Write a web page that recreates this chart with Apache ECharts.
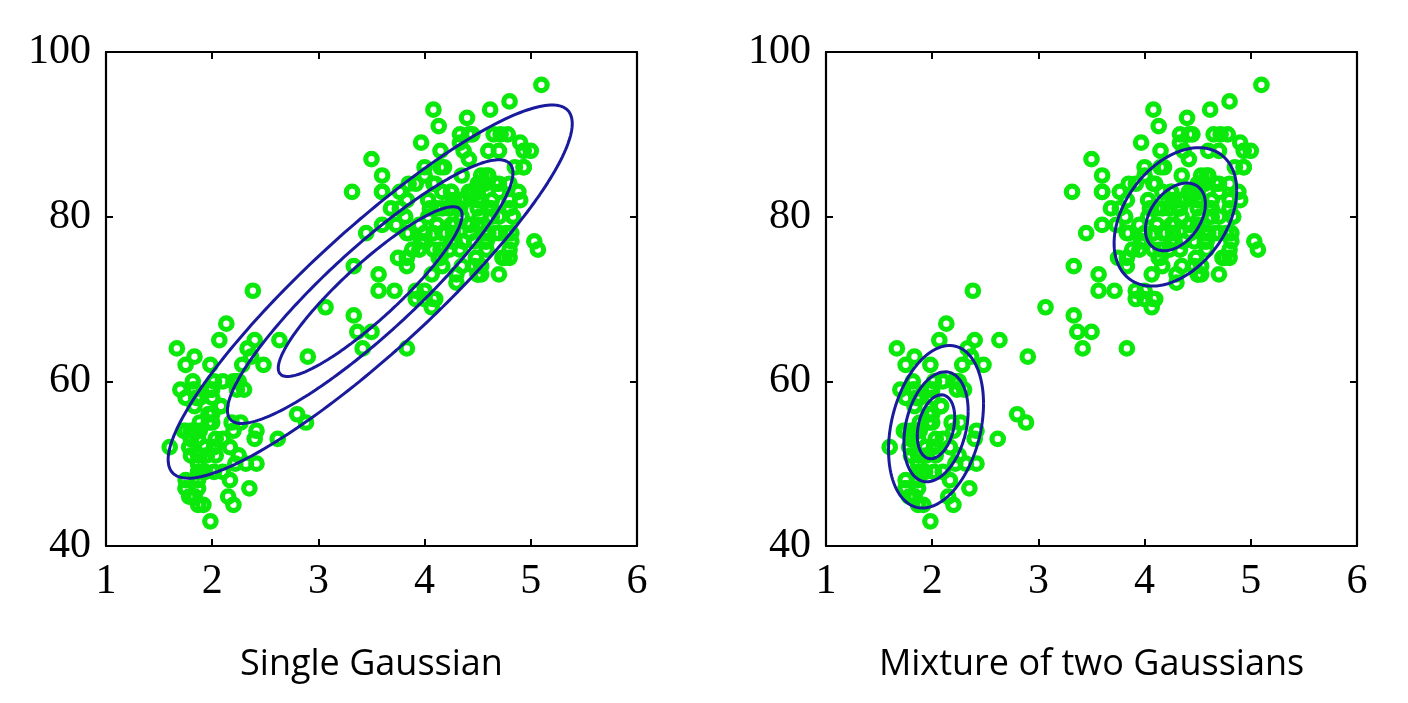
<!DOCTYPE html>
<html>
<head>
<meta charset="utf-8">
<script src="https://cdn.jsdelivr.net/npm/echarts@6/dist/echarts.min.js"></script>
<style>
html,body{margin:0;padding:0;background:#fff;}
#chart{width:1408px;height:703px;}
</style>
</head>
<body>
<div id="chart"></div>
<script>
// Old Faithful data: eruption duration (min) and waiting time (min)
const eruptions = [3.600,1.800,3.333,2.283,4.533,2.883,4.700,3.600,1.950,4.350,1.833,3.917,4.200,1.750,4.700,2.167,1.750,4.800,1.600,4.250,1.800,1.750,3.450,3.067,4.533,3.600,1.967,4.083,3.850,4.433,4.300,4.467,3.367,4.033,3.833,2.017,1.867,4.833,1.833,4.783,4.350,1.883,4.567,1.750,4.533,3.317,3.833,2.100,4.633,2.000,4.800,4.716,1.833,4.833,1.733,4.883,3.717,1.667,4.567,4.317,2.233,4.500,1.750,4.800,1.817,4.400,4.167,4.700,2.067,4.700,4.033,1.967,4.500,4.000,1.983,5.067,2.017,4.567,3.883,3.600,4.133,4.333,4.100,2.633,4.067,4.933,3.950,4.517,2.167,4.000,2.200,4.333,1.867,4.817,1.833,4.300,4.667,3.750,1.867,4.900,2.483,4.367,2.100,4.500,4.050,1.867,4.700,1.783,4.850,3.683,4.733,2.300,4.900,4.417,1.700,4.633,2.317,4.600,1.817,4.417,2.617,4.067,4.250,1.967,4.600,3.767,1.917,4.500,2.267,4.650,1.867,4.167,2.800,4.333,1.833,4.383,1.883,4.933,2.033,3.733,4.233,2.233,4.533,4.817,4.333,1.983,4.633,2.017,5.100,1.800,5.033,4.000,2.400,4.600,3.567,4.000,4.500,4.083,1.800,3.967,2.200,4.150,2.000,3.833,3.500,4.583,2.367,5.000,1.933,4.617,1.917,2.083,4.583,3.333,4.167,4.333,4.500,2.417,4.000,4.167,1.883,4.583,4.250,3.767,2.033,4.433,4.083,1.833,4.417,2.183,4.800,1.833,4.800,4.100,3.966,4.233,3.500,4.366,2.250,4.667,2.100,4.350,4.133,1.867,4.600,1.783,4.367,3.850,1.933,4.500,2.383,4.700,1.867,3.833,3.417,4.233,2.400,4.800,2.000,4.150,1.867,4.267,1.750,4.483,4.000,4.117,4.083,4.267,3.917,4.550,4.083,2.417,4.183,2.217,4.450,1.883,1.850,4.283,3.950,2.333,4.150,2.350,4.933,2.900,4.583,3.833,2.083,4.367,2.133,4.350,2.200,4.450,3.567,4.500,4.150,3.817,3.917,4.450,2.000,4.283,4.767,4.533,1.850,4.250,1.983,2.250,4.750,4.117,2.150,4.417,1.817,4.467];
const waiting = [79,54,74,62,85,55,88,85,51,85,54,84,78,47,83,52,62,84,52,79,51,47,78,69,74,83,55,76,78,79,73,77,66,80,74,52,48,80,59,90,80,58,84,58,73,83,64,53,82,59,75,90,54,80,54,83,71,64,77,81,59,84,48,82,60,92,78,78,65,73,82,56,79,71,62,76,60,78,76,83,75,82,70,65,73,88,76,80,48,86,60,90,50,78,63,72,84,75,51,82,62,88,49,83,81,47,84,52,86,81,75,59,89,79,59,81,50,85,59,87,53,69,77,56,88,81,45,82,55,90,45,83,56,89,46,82,51,86,53,79,81,60,82,77,76,59,80,49,96,53,77,77,65,81,71,70,81,93,53,89,45,86,58,78,66,76,63,88,52,93,49,57,77,68,81,81,73,50,85,74,55,77,83,83,51,78,84,46,83,55,81,57,76,84,77,81,87,77,51,78,60,82,91,53,78,46,77,84,49,83,71,80,49,75,64,76,53,94,55,76,50,82,54,75,78,79,78,78,70,79,70,54,86,50,90,54,54,77,79,64,75,47,86,63,85,82,57,82,67,74,54,83,73,73,88,80,71,83,56,79,78,84,58,83,43,60,75,81,46,90,46,74];

// Axis ticks
const xTicks = [1, 2, 3, 4, 5, 6];
const yTicks = [40, 60, 80, 100];

// Panel captions
const captions = ['Single Gaussian', 'Mixture of two Gaussians'];

// Contour levels (Mahalanobis radius) for the single Gaussian fit
const singleLevels = [0.76, 1.18, 1.67];

// Mixture components: means, covariances [sxx, sxy, syy], contour radii
const mixMeans = [[2.036, 54.48], [4.290, 79.97]];
const mixCovs = [[0.0692, 0.4352, 33.70], [0.1700, 0.9406, 36.05]];
const mixLevels = [[0.67, 1.15, 1.70], [0.685, 1.40]];

// ---- build ----
const n = Math.min(eruptions.length, waiting.length);
const points = [];
for (let i = 0; i < n; i++) points.push([eruptions[i], waiting[i]]);

// ML fit of single Gaussian from the data
let mx = 0, my = 0;
for (const p of points) { mx += p[0]; my += p[1]; }
mx /= n; my /= n;
let sxx = 0, sxy = 0, syy = 0;
for (const p of points) {
  const dx = p[0] - mx, dy = p[1] - my;
  sxx += dx * dx; sxy += dx * dy; syy += dy * dy;
}
sxx /= n; sxy /= n; syy /= n;

function ellipse(mu, cov, k) {
  const a = Math.sqrt(cov[0]);
  const b = cov[1] / a;
  const c = Math.sqrt(cov[2] - b * b);
  const pts = [];
  const N = 240;
  for (let i = 0; i <= N; i++) {
    const t = 2 * Math.PI * i / N;
    pts.push([mu[0] + k * a * Math.cos(t), mu[1] + k * (b * Math.cos(t) + c * Math.sin(t))]);
  }
  return pts;
}

const GREEN = '#0be80b';
const BLUE = '#1a1a9c';
const serif = "'Liberation Serif','DejaVu Serif',serif";

const gridTop = 52, gridH = 494, gridW = 531;
const gridLefts = [106, 826];

const grids = [], xAxes = [], yAxes = [], series = [];
gridLefts.forEach((L, gi) => {
  grids.push({left: L, top: gridTop, width: gridW, height: gridH, show: false});
  const baseX = {
    gridIndex: gi, type: 'value', min: xTicks[0], max: xTicks[xTicks.length - 1], interval: 1,
    splitLine: {show: false},
    axisLine: {show: true, onZero: false, lineStyle: {color: '#000', width: 2.2}},
    axisTick: {show: true, inside: true, length: 7, lineStyle: {color: '#000', width: 2}}
  };
  const baseY = {
    gridIndex: gi, type: 'value', min: yTicks[0], max: yTicks[yTicks.length - 1], interval: 20,
    splitLine: {show: false},
    axisLine: {show: true, onZero: false, lineStyle: {color: '#000', width: 2.2}},
    axisTick: {show: true, inside: true, length: 7, lineStyle: {color: '#000', width: 2}}
  };
  xAxes.push(Object.assign({}, baseX, {position: 'bottom',
    axisLabel: {show: true, margin: 15, color: '#000', fontSize: 42, fontFamily: serif}}));
  xAxes.push(Object.assign({}, baseX, {position: 'top', axisLabel: {show: false}}));
  yAxes.push(Object.assign({}, baseY, {position: 'left',
    axisLabel: {show: true, margin: 15, color: '#000', fontSize: 42, fontFamily: serif}}));
  yAxes.push(Object.assign({}, baseY, {position: 'right', axisLabel: {show: false}}));

  series.push({
    type: 'scatter', xAxisIndex: gi * 2, yAxisIndex: gi * 2, data: points,
    symbol: 'circle', symbolSize: 11.5, z: 2,
    itemStyle: {color: 'rgba(0,0,0,0)', borderColor: GREEN, borderWidth: 5.2, opacity: 1},
    emphasis: {disabled: true}, silent: true
  });
});

singleLevels.forEach(k => {
  series.push({
    type: 'line', xAxisIndex: 0, yAxisIndex: 0, data: ellipse([mx, my], [sxx, sxy, syy], k),
    showSymbol: false, symbol: 'none', smooth: false, z: 3, silent: true,
    lineStyle: {color: BLUE, width: 3}
  });
});
mixMeans.forEach((mu, ci) => {
  mixLevels[ci].forEach(k => {
    series.push({
      type: 'line', xAxisIndex: 2, yAxisIndex: 2, data: ellipse(mu, mixCovs[ci], k),
      showSymbol: false, symbol: 'none', smooth: false, z: 3, silent: true,
      lineStyle: {color: BLUE, width: 3}
    });
  });
});

const chart = echarts.init(document.getElementById('chart'), null, {renderer: 'canvas'});
chart.setOption({
  animation: false,
  backgroundColor: '#fff',
  grid: grids,
  xAxis: xAxes,
  yAxis: yAxes,
  series: series,
  graphic: captions.map((t, i) => ({
    type: 'text', x: gridLefts[i] + gridW / 2, y: 665,
    style: {text: t, align: 'center', verticalAlign: 'middle', textAlign: 'center', textVerticalAlign: 'middle',
      fill: '#000', fontSize: 36, fontFamily: "'Open Sans','Noto Sans',sans-serif"}
  }))
});
</script>
</body>
</html>
